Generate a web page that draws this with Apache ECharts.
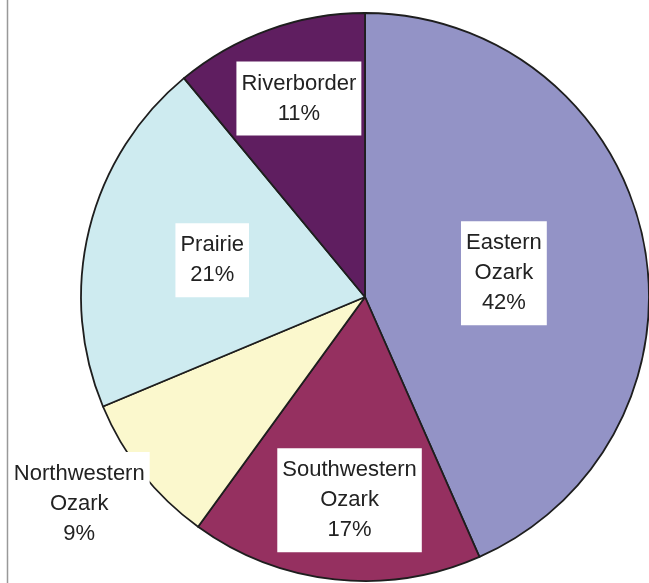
<!DOCTYPE html>
<html>
<head>
<meta charset="utf-8">
<script src="https://cdn.jsdelivr.net/npm/echarts@6/dist/echarts.min.js"></script>
<style>
html,body{margin:0;padding:0;background:#fff;}
#chart{width:649px;height:583px;}
</style>
</head>
<body>
<div id="chart"></div>
<script>
// Data
var regions = ['Eastern\nOzark', 'Southwestern\nOzark', 'Northwestern\nOzark', 'Prairie', 'Riverborder'];
var shares = [43.4, 16.6, 8.7, 20.3, 11.0];
var pctLabels = ['42%', '17%', '9%', '21%', '11%'];

// Styles / layout (kept separate from data)
var colors = ['#9393C6', '#953060', '#FBF8CD', '#CEEBF0', '#5F1E60'];
var labelShift = [[-3, 6], [0, 59], [-172, 117], [-12, -2], [-17, -62]];

var chart = echarts.init(document.getElementById('chart'), null, {renderer: 'canvas'});

var data = regions.map(function (name, i) {
  return {
    name: name,
    value: shares[i],
    itemStyle: {color: colors[i]},
    label: {formatter: name + '\n' + pctLabels[i]}
  };
});

chart.setOption({
  animation: false,
  backgroundColor: '#ffffff',
  graphic: [{
    type: 'line',
    shape: {x1: 7.5, y1: 0, x2: 7.5, y2: 583},
    style: {stroke: '#999999', lineWidth: 1.5}
  }],
  series: [{
    type: 'pie',
    center: [365, 297],
    radius: [0, 284],
    startAngle: 90,
    clockwise: true,
    avoidLabelOverlap: false,
    silent: true,
    itemStyle: {borderColor: '#1e1e1e', borderWidth: 1.8},
    label: {
      show: true,
      position: 'inside',
      fontFamily: '"Liberation Sans", Arial, sans-serif',
      fontSize: 22,
      lineHeight: 30,
      color: '#222222',
      backgroundColor: '#ffffff',
      padding: [7, 5, 7, 5],
      align: 'center'
    },
    labelLine: {show: false},
    labelLayout: function (params) {
      var s = labelShift[params.dataIndex];
      return {dx: s[0], dy: s[1]};
    },
    emphasis: {disabled: true},
    data: data
  }]
});
</script>
</body>
</html>
